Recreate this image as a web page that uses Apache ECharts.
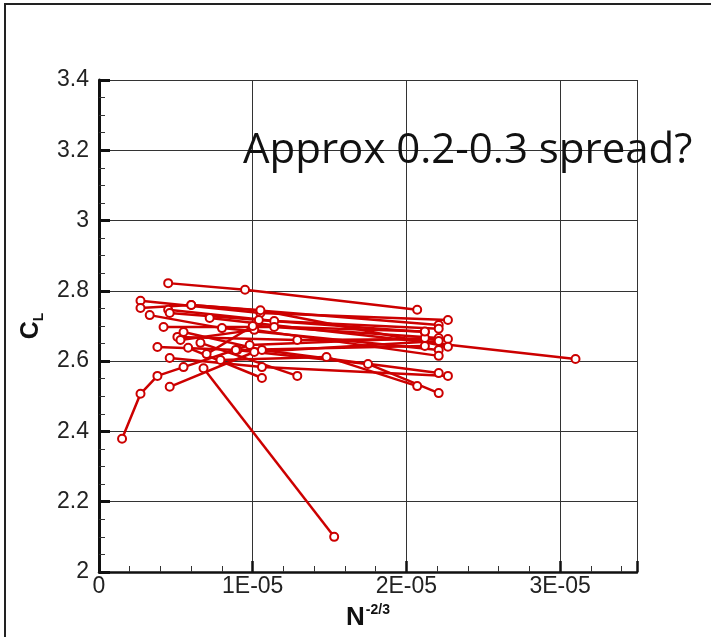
<!DOCTYPE html>
<html><head><meta charset="utf-8">
<script src="https://cdn.jsdelivr.net/npm/echarts@6/dist/echarts.min.js"></script>
<style>html,body{margin:0;padding:0;background:#fff}#c{width:711px;height:637px}</style>
</head><body><div id="c"></div>
<script>
// x values are N^-2/3 (real values), y values are C_L
const xTickLabels = ["0", "1E-05", "2E-05", "3E-05"];
const yTickLabels = ["2", "2.2", "2.4", "2.6", "2.8", "3", "3.2", "3.4"];
const annotation = "Approx 0.2-0.3 spread?";
const R01 = [[4.5e-6,2.822],[9.5e-6,2.803],[20.7e-6,2.746]];
const R02 = [[2.7e-6,2.772],[10.5e-6,2.737],[22.7e-6,2.717]];
const R03 = [[2.7e-6,2.751],[6.0e-6,2.760],[22.1e-6,2.703]];
const R04 = [[3.3e-6,2.731],[8.0e-6,2.694],[22.1e-6,2.632]];
const R05 = [[4.5e-6,2.746],[11.4e-6,2.714],[22.1e-6,2.692]];
const R06 = [[4.6e-6,2.737],[10.4e-6,2.717],[21.2e-6,2.683]];
const R07 = [[4.2e-6,2.697],[11.4e-6,2.697],[22.1e-6,2.666]];
const R08 = [[5.1e-6,2.669],[12.9e-6,2.660],[22.7e-6,2.663]];
const R09 = [[5.5e-6,2.683],[10.6e-6,2.632],[22.1e-6,2.566]];
const R10 = [[3.8e-6,2.640],[9.0e-6,2.632],[21.2e-6,2.643]];
const R11 = [[4.6e-6,2.609],[10.6e-6,2.583],[22.7e-6,2.558]];
const R12 = [[1.5e-6,2.379],[2.7e-6,2.507],[3.8e-6,2.558],[5.5e-6,2.583],[9.8e-6,2.646],[21.2e-6,2.666]];
const R13 = [[7.2e-6,2.723],[31.0e-6,2.606]];
const R14 = [[4.6e-6,2.527],[10.1e-6,2.626],[22.1e-6,2.657]];
const R15 = [[6.8e-6,2.580],[15.3e-6,2.100]];
const R16 = [[5.8e-6,2.638],[10.6e-6,2.552]];
const R17 = [[6.6e-6,2.652],[12.9e-6,2.558]];
const R18 = [[7.9e-6,2.603],[14.8e-6,2.612],[20.7e-6,2.529]];
const R19 = [[8.9e-6,2.632],[17.5e-6,2.592],[22.1e-6,2.509]];
const R20 = [[5.3e-6,2.660],[10.1e-6,2.689],[22.1e-6,2.615]];
const R21 = [[6.0e-6,2.760],[10.5e-6,2.745],[22.7e-6,2.641]];
const R22 = [[7.0e-6,2.620],[10.0e-6,2.700],[21.2e-6,2.684]];
const runs = [R01,R02,R03,R04,R05,R06,R07,R08,R09,R10,R11,R12,R13,R14,R15,R16,R17,R18,R19,R20,R21,R22];

const RED = '#cc0000';
const chart = echarts.init(document.getElementById('c'), null, {renderer: 'canvas'});
const lab = {fontFamily: 'Liberation Sans', fontSize: 23, color: '#222'};
function pick(arr, t) {
  const i = Math.round(t);
  return Math.abs(t - i) < 1e-6 && arr[i] !== undefined ? arr[i] : '';
}
chart.setOption({
  animation: false,
  backgroundColor: '#fff',
  grid: {left: 99, right: 74, top: 80, bottom: 65, containLabel: false},
  xAxis: {
    type: 'value', min: 0, max: 3.5e-5, interval: 1e-5,
    name: '{n|N}{s|-2/3}', nameLocation: 'middle', nameGap: 27,
    nameTextStyle: {rich: {
      n: {fontFamily: 'Liberation Sans', fontWeight: 'bold', fontSize: 26, color: '#111', lineHeight: 28, verticalAlign: 'bottom'},
      s: {fontFamily: 'Liberation Sans', fontWeight: 'bold', fontSize: 14, color: '#111', lineHeight: 28, verticalAlign: 'top', padding: [0,0,0,1]}
    }},
    axisLine: {lineStyle: {color: '#111', width: 2.5}},
    axisTick: {inside: true, length: 11, lineStyle: {color: '#111', width: 2.5}},
    minorTick: {show: true, splitNumber: 5, length: 6, lineStyle: {color: '#333', width: 1}},
    splitLine: {show: true, lineStyle: {color: '#333', width: 1}},
    axisLabel: Object.assign({margin: 3, formatter: v => pick(xTickLabels, v / 1e-5)}, lab)
  },
  yAxis: {
    type: 'value', min: 2, max: 3.4, interval: 0.2,
    name: '{c|C}{l|L}', nameLocation: 'middle', nameGap: 52, nameRotate: 90,
    nameTextStyle: {rich: {
      c: {fontFamily: 'Liberation Sans', fontWeight: 'bold', fontSize: 25, color: '#111', lineHeight: 28, verticalAlign: 'top'},
      l: {fontFamily: 'Liberation Sans', fontWeight: 'bold', fontSize: 14, color: '#111', lineHeight: 28, verticalAlign: 'bottom'}
    }},
    axisLine: {lineStyle: {color: '#111', width: 3}},
    axisTick: {inside: true, length: 11, lineStyle: {color: '#111', width: 3}},
    minorTick: {show: true, splitNumber: 4, length: 6, lineStyle: {color: '#333', width: 1}},
    splitLine: {show: true, lineStyle: {color: '#333', width: 1}},
    axisLabel: Object.assign({margin: 10, formatter: v => pick(yTickLabels, (v - 2) / 0.2)}, lab)
  },
  series: runs.map((d, i) => ({
    type: 'line', name: 'run' + (i + 1), data: d,
    symbol: 'emptyCircle', symbolSize: 8, showSymbol: true,
    lineStyle: {color: RED, width: 2.5},
    itemStyle: {color: RED, borderColor: RED, borderWidth: 2.2},
    z: 3
  })),
  graphic: [
    {type: 'polyline', shape: {points: [[5, 637], [5, 4], [711, 4]]}, style: {stroke: '#222', lineWidth: 2, fill: null}, silent: true},
    {type: 'text', x: 243, y: 151, z: 10, style: {text: annotation, fontFamily: 'Open Sans', fontSize: 42, fill: '#111', textVerticalAlign: 'middle'}}
  ]
});
</script></body></html>
